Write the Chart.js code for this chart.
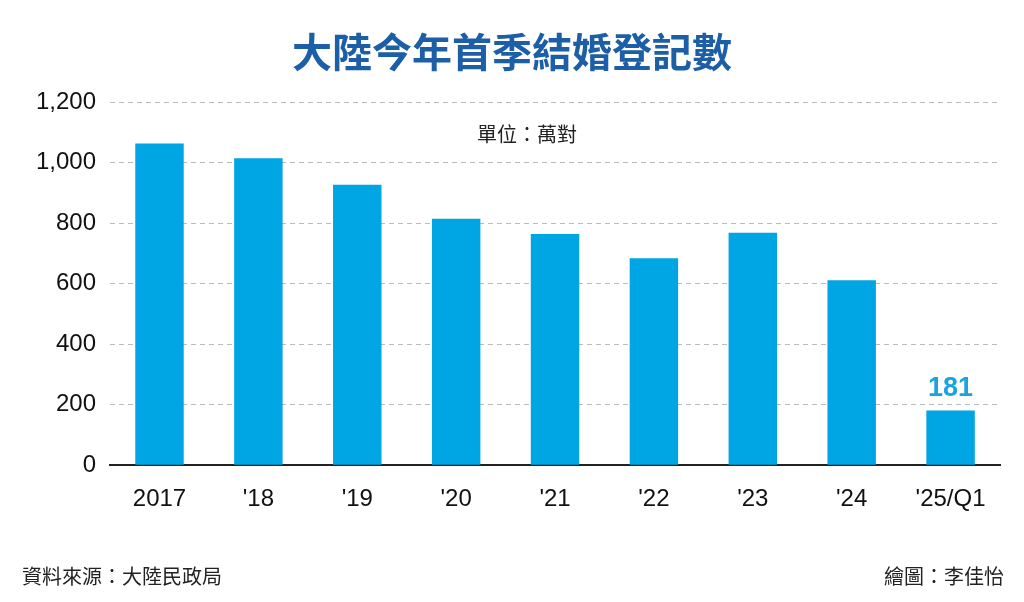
<!DOCTYPE html>
<html>
<head>
<meta charset="utf-8">
<script src="https://cdn.jsdelivr.net/npm/chart.js@4"></script>
<style>
  body { margin: 0; background: #fff; }
  #wrap { width: 1024px; height: 602px; }
</style>
</head>
<body>
<div id="wrap"><canvas id="myChart" width="1024" height="602"></canvas></div>
<script>
var categories = ["2017", "'18", "'19", "'20", "'21", "'22", "'23", "'24", "'25/Q1"];
var marriages = [1063, 1014, 927, 814, 764, 684, 768, 611, 181];
var yTicks = [0, 200, 400, 600, 800, 1000, 1200];
var FONT = "'Noto Sans CJK TC', 'Noto Sans', sans-serif";
var NUMFONT = "'Liberation Sans', Arial, sans-serif";

// Draws title, unit, source lines and the last bar's value
var extras = {
  id: "extras",
  afterDraw: function (chart) {
    var ctx = chart.ctx;
    ctx.save();
    ctx.textBaseline = "middle";
    ctx.fillStyle = "#1d5fa6";
    ctx.font = "bold 40px " + FONT;
    ctx.textAlign = "center";
    ctx.fillText("大陸今年首季結婚登記數", 512, 52);
    ctx.fillStyle = "#222";
    ctx.font = "20px " + FONT;
    ctx.fillText("單位：萬對", 527, 134);
    ctx.textAlign = "left";
    ctx.fillText("資料來源：大陸民政局", 22, 576);
    ctx.textAlign = "right";
    ctx.fillText("繪圖：李佳怡", 1004, 576);
    var meta = chart.getDatasetMeta(0);
    var last = meta.data[meta.data.length - 1];
    ctx.textAlign = "center";
    ctx.fillStyle = "#1aa3e0";
    ctx.font = "bold 27px " + NUMFONT;
    ctx.fillText(String(marriages[marriages.length - 1]), last.x, last.y - 22);
    ctx.restore();
  }
};

window.onload = function () {
  var ctx = document.getElementById("myChart").getContext("2d");
  var myChart = new Chart(ctx, {
    type: "bar",
    data: {
      labels: categories,
      datasets: [
        {
          data: marriages,
          backgroundColor: "#00a5e3",
          barPercentage: 0.49,
          categoryPercentage: 1.0,
        },
      ],
    },
    options: {
      responsive: false,
      animation: false,
      layout: { padding: { top: 102, right: 24, bottom: 68, left: 22 } },
      plugins: { legend: { display: false }, tooltip: { enabled: false } },
      scales: {
        x: {
          grid: { display: false, drawTicks: false },
          border: { color: "#222", width: 2 },
          ticks: { color: "#111", font: { size: 24, family: NUMFONT }, padding: 20 },
        },
        y: {
          min: 0,
          max: 1200,
          afterBuildTicks: function (axis) {
            axis.ticks = yTicks.map(function (v) { return { value: v }; });
          },
          grid: { color: "#bbb", drawTicks: false, lineWidth: 1 },
          border: { display: false, dash: [5, 4] },
          ticks: {
            color: "#111",
            font: { size: 24, family: NUMFONT },
            padding: 14,
            callback: function (v) { return v.toLocaleString("en-US"); },
          },
        },
      },
    },
    plugins: [extras],
  });
};
</script>
</body>
</html>
